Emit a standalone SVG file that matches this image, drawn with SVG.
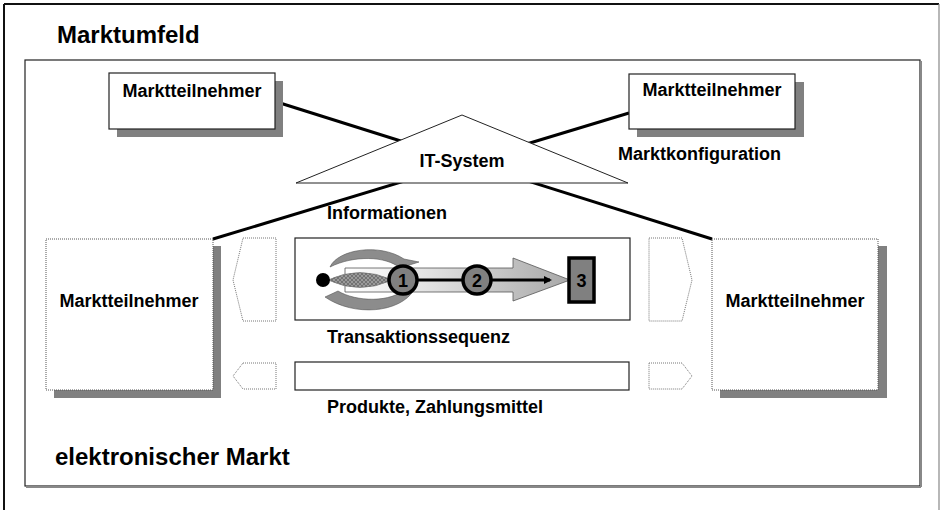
<svg xmlns="http://www.w3.org/2000/svg" width="940" height="510" viewBox="0 0 940 510">
  <style>
    .lbl { font-family: "Liberation Sans", Arial, sans-serif; font-weight: bold; fill: #000; }
    .big { font-size: 24px; }
    .mid { font-size: 18px; }
    .box { fill: #fff; stroke: #222; stroke-width: 1.2; }
    .dotbox { fill: #fff; stroke: #555; stroke-width: 1; stroke-dasharray: 1 1; }
    .chev { fill: #fff; stroke: #777; stroke-width: 1; stroke-dasharray: 1 1; }
    .shadow { fill: #808080; }
    .conn { stroke: #000; stroke-width: 3; fill: none; }
    .step { fill: #808080; stroke: #000; stroke-width: 3.5; }
  </style>
  <defs>
    <linearGradient id="shaftGrad" x1="0" y1="0" x2="1" y2="0">
      <stop offset="0" stop-color="#ffffff"/>
      <stop offset="0.35" stop-color="#e4e4e4"/>
      <stop offset="1" stop-color="#a8a8a8"/>
    </linearGradient>
    <pattern id="hatch" width="4" height="4" patternUnits="userSpaceOnUse">
      <rect width="4" height="4" fill="#9a9a9a"/>
      <path d="M0 0 L4 4 M4 0 L0 4" stroke="#6a6a6a" stroke-width="0.8"/>
    </pattern>
    <marker id="tip" markerWidth="8" markerHeight="8" refX="6" refY="4" orient="auto" markerUnits="userSpaceOnUse">
      <path d="M0 0 L8 4 L0 8 Z" fill="#000"/>
    </marker>
  </defs>

  <!-- outer frame: market environment -->
  <g id="umfeld">
    <line x1="4" y1="4" x2="939" y2="4" stroke="#111" stroke-width="2"/>
    <line x1="4" y1="4" x2="4" y2="510" stroke="#111" stroke-width="2"/>
    <line x1="939" y1="4" x2="939" y2="510" stroke="#888" stroke-width="1.2"/>
    <text class="lbl big" x="57" y="43">Marktumfeld</text>
  </g>

  <!-- inner frame: electronic market -->
  <g id="markt">
    <rect x="25" y="60" width="895" height="426" fill="#fff" stroke="#222" stroke-width="1.2"/>
    <line x1="921" y1="61" x2="921" y2="487" stroke="#888" stroke-width="2"/>
    <line x1="26" y1="487" x2="921" y2="487" stroke="#888" stroke-width="2"/>
    <text class="lbl big" x="55" y="465">elektronischer Markt</text>
  </g>

  <!-- connectors between market participants -->
  <g id="connectors">
    <line class="conn" x1="280" y1="103" x2="712" y2="239"/>
    <line class="conn" x1="629" y1="113" x2="213" y2="239"/>
  </g>

  <!-- participant boxes, top row -->
  <g id="teilnehmer-ol">
    <rect class="shadow" x="117" y="81" width="166" height="56"/>
    <rect class="box" x="109" y="73" width="166" height="56"/>
    <text class="lbl mid" x="192" y="97" text-anchor="middle">Marktteilnehmer</text>
  </g>
  <g id="teilnehmer-or">
    <rect class="shadow" x="637" y="82" width="167" height="55"/>
    <rect class="box" x="629" y="74" width="166" height="55"/>
    <text class="lbl mid" x="712" y="96" text-anchor="middle">Marktteilnehmer</text>
  </g>
  <text class="lbl mid" x="618" y="160">Marktkonfiguration</text>

  <!-- IT system -->
  <g id="it-system">
    <polygon points="462,115 628,183 296,183" fill="#fff" stroke="#222" stroke-width="1"/>
    <text class="lbl mid" x="462" y="167" text-anchor="middle">IT-System</text>
  </g>
  <text class="lbl mid" x="327" y="219">Informationen</text>

  <!-- participant boxes, bottom row -->
  <g id="teilnehmer-l">
    <rect class="shadow" x="54" y="246" width="167" height="152"/>
    <rect class="dotbox" x="46" y="239" width="167" height="151"/>
    <text class="lbl mid" x="129" y="307" text-anchor="middle">Marktteilnehmer</text>
  </g>
  <g id="teilnehmer-r">
    <rect class="shadow" x="720" y="246" width="167" height="152"/>
    <rect class="dotbox" x="712" y="239" width="166" height="151"/>
    <text class="lbl mid" x="795" y="307" text-anchor="middle">Marktteilnehmer</text>
  </g>

  <!-- flow direction chevrons -->
  <g id="chevrons">
    <polygon class="chev" points="243,238 276,238 276,321 243,321 233,280"/>
    <polygon class="chev" points="243,363 276,363 276,389 243,389 233,376"/>
    <polygon class="chev" points="649,238 682,238 692,280 682,321 649,321"/>
    <polygon class="chev" points="649,363 682,363 692,376 682,389 649,389"/>
  </g>

  <!-- transaction sequence -->
  <g id="transaktion">
    <rect x="295" y="238" width="335" height="82" fill="#fff" stroke="#222" stroke-width="1.2"/>
    <!-- big progress arrow -->
    <path d="M345,268 L513,268 L513,258 L570,280 L513,301 L513,292 L345,292 Z" fill="url(#shaftGrad)" stroke="#555" stroke-width="0.8"/>
    <!-- rotating swooshes around the start -->
    <path d="M330,267 C338,249 380,243 404,259 L419,262 L400,268 C386,256 354,255 330,267 Z" fill="#8c8c8c" stroke="#555" stroke-width="0.6"/>
    <path d="M325,297 L338,291 C356,302 392,303 406,288 L414,290 C400,313 354,317 325,297 Z" fill="#8c8c8c" stroke="#555" stroke-width="0.6"/>
    <!-- lens -->
    <path d="M328,280 Q360,265 392,280 Q360,295 328,280 Z" fill="url(#hatch)" stroke="#666" stroke-width="0.6"/>
    <circle cx="323" cy="280" r="7" fill="#000"/>
    <!-- sequence line -->
    <line x1="395" y1="280" x2="550" y2="280" stroke="#000" stroke-width="3" marker-end="url(#tip)"/>
    <circle class="step" cx="403" cy="280" r="14"/>
    <text class="lbl mid" x="403" y="287" text-anchor="middle">1</text>
    <circle class="step" cx="477" cy="280" r="14"/>
    <text class="lbl mid" x="477" y="287" text-anchor="middle">2</text>
    <rect class="step" x="569" y="258" width="25" height="44" stroke-width="3"/>
    <text class="lbl mid" x="581.5" y="287" text-anchor="middle">3</text>
  </g>
  <text class="lbl mid" x="327" y="343">Transaktionssequenz</text>

  <!-- product / payment channel -->
  <g id="produkte">
    <rect x="295" y="362" width="334" height="28" fill="#fff" stroke="#222" stroke-width="1.2"/>
  </g>
  <text class="lbl mid" x="327" y="413">Produkte, Zahlungsmittel</text>
</svg>
